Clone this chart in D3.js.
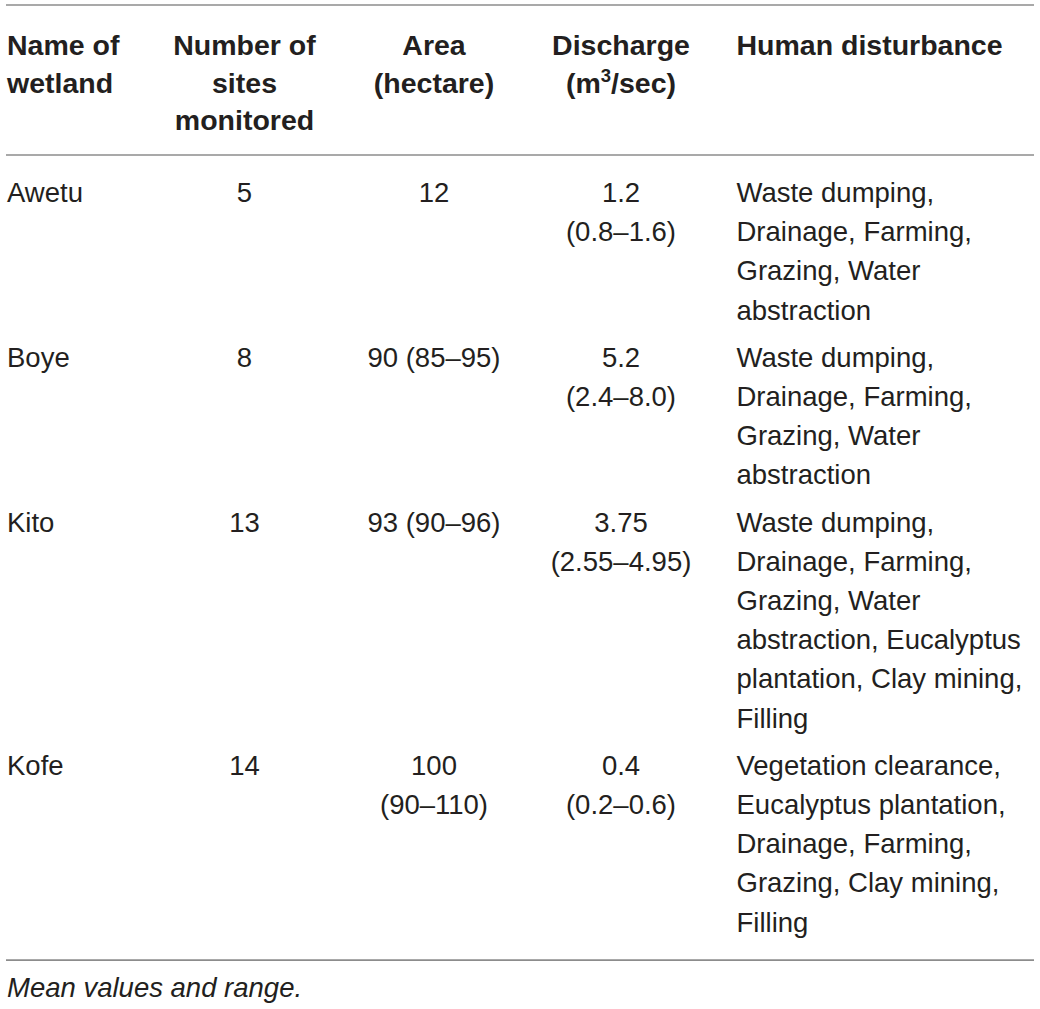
<!DOCTYPE html>
<html>
<head>
<meta charset="utf-8">
<script src="https://cdn.jsdelivr.net/npm/d3@7"></script>
<style>
  html, body { margin: 0; padding: 0; background: #fff; }
  svg { display: block; }
  text { font-family: "Liberation Sans", Arial, Helvetica, sans-serif; fill: #231f20; }
</style>
</head>
<body>
<svg id="chart" width="1040" height="1009"></svg>
<script>
// ---- data ----
const headers = [
  "Name of wetland",
  "Number of sites monitored",
  "Area (hectare)",
  "Discharge (m3/sec)",
  "Human disturbance"
];
const wetlands = ["Awetu", "Boye", "Kito", "Kofe"];
const sitesMonitored = [5, 8, 13, 14];
const areaMean = ["12", "90", "93", "100"];
const areaRange = [null, "85–95", "90–96", "90–110"];
const dischargeMean = ["1.2", "5.2", "3.75", "0.4"];
const dischargeRange = ["0.8–1.6", "2.4–8.0", "2.55–4.95", "0.2–0.6"];
const disturbance = [
  "Waste dumping, Drainage, Farming, Grazing, Water abstraction",
  "Waste dumping, Drainage, Farming, Grazing, Water abstraction",
  "Waste dumping, Drainage, Farming, Grazing, Water abstraction, Eucalyptus plantation, Clay mining, Filling",
  "Vegetation clearance, Eucalyptus plantation, Drainage, Farming, Grazing, Clay mining, Filling"
];
const footnote = "Mean values and range.";

// ---- layout ----
const W = 1040;
const bodySize = 27.5, headSize = 28.5;
const lineH = 39.2, rowPad = 8;
const svg = d3.select("#chart");

const colKeys = ["name", "sites", "area", "discharge", "dist"];
const colX = d3.scaleOrdinal().domain(colKeys).range([7, 244.5, 434, 621, 736.5]);
const colAnchor = d3.scaleOrdinal().domain(colKeys).range(["start", "middle", "middle", "middle", "start"]);
const colWidth = d3.scaleOrdinal().domain(colKeys).range([150, 160, 150, 150, 300]);

// measuring helper
const meas = svg.append("text").attr("font-size", bodySize).attr("x", -9999).attr("y", -9999);
function textW(s, weight) {
  meas.attr("font-weight", weight || "normal").text(s);
  return meas.node().getComputedTextLength();
}
function wrap(str, width, weight) {
  const words = str.split(" ");
  const lines = [];
  let cur = "";
  words.forEach(w => {
    const t = cur ? cur + " " + w : w;
    if (cur && textW(t, weight) > width) { lines.push(cur); cur = w; }
    else cur = t;
  });
  if (cur) lines.push(cur);
  return lines;
}

// build cells
const rows = wetlands.map((w, i) => {
  const cells = {
    name: [w],
    sites: [String(sitesMonitored[i])],
    area: wrap(areaMean[i] + (areaRange[i] ? " (" + areaRange[i] + ")" : ""), colWidth("area")),
    discharge: wrap(dischargeMean[i] + " (" + dischargeRange[i] + ")", colWidth("discharge")),
    dist: wrap(disturbance[i], colWidth("dist"))
  };
  const n = d3.max(colKeys, k => cells[k].length);
  return { cells, n };
});
let acc = 0;
rows.forEach(r => { r.start = acc; acc += r.n; });

const yLine = d3.scaleLinear().domain([0, 1]).range([202, 202 + lineH]);
meas.remove();

// rules
const rule = (y) => svg.append("line")
  .attr("x1", 6).attr("x2", 1034).attr("y1", y).attr("y2", y)
  .attr("stroke", "#8c8c8c").attr("stroke-width", 1.6);
rule(5);
rule(155);

// header
const headLines = {
  name: ["Name of", "wetland"],
  sites: ["Number of", "sites", "monitored"],
  area: ["Area", "(hectare)"],
  discharge: ["Discharge", "(m3/sec)"],
  dist: ["Human disturbance"]
};
const yHead = d3.scaleLinear().domain([0, 1]).range([55, 92.5]);
colKeys.forEach(k => {
  headLines[k].forEach((ln, j) => {
    const t = svg.append("text")
      .attr("x", colX(k)).attr("y", yHead(j))
      .attr("text-anchor", colAnchor(k))
      .attr("font-size", headSize).attr("font-weight", "bold");
    if (ln.includes("m3")) {
      t.append("tspan").text("(m");
      t.append("tspan").text("3").attr("font-size", headSize * 0.65).attr("dy", -11);
      t.append("tspan").text("/sec)").attr("dy", 11);
    } else {
      t.text(ln);
    }
  });
});

// body
rows.forEach((r, i) => {
  colKeys.forEach(k => {
    r.cells[k].forEach((ln, j) => {
      svg.append("text")
        .attr("x", colX(k))
        .attr("y", yLine(r.start + j) + i * rowPad)
        .attr("text-anchor", colAnchor(k))
        .attr("font-size", bodySize)
        .text(ln);
    });
  });
});

const lastRow = rows[rows.length - 1];
const bottomY = yLine(lastRow.start + lastRow.n - 1) + (rows.length - 1) * rowPad + 28.5;
rule(bottomY);

svg.append("text")
  .attr("x", 7).attr("y", bottomY + 37)
  .attr("font-size", bodySize).attr("font-style", "italic")
  .text(footnote);
</script>
</body>
</html>
